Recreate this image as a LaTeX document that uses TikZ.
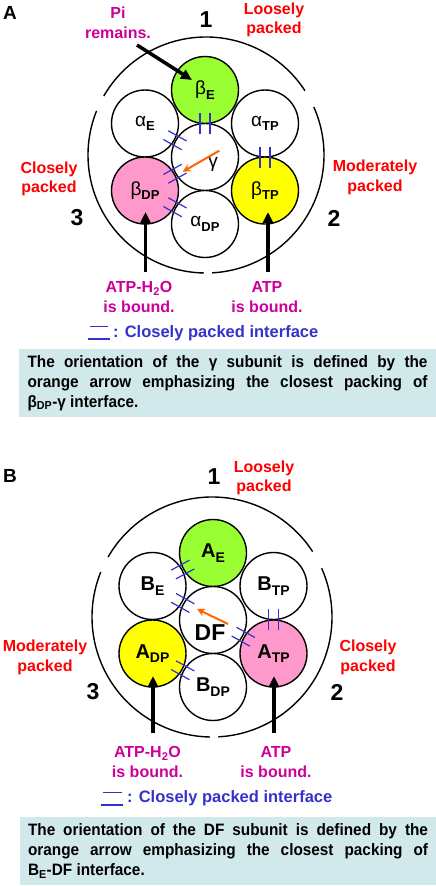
\documentclass[tikz,border=0pt]{standalone}
\usepackage{fontspec}
\setmainfont{Liberation Sans}
\newfontfamily\boxfont{Liberation Sans}[FakeStretch=0.93]
\usetikzlibrary{calc,arrows.meta}
\definecolor{lgreen}{RGB}{153,255,51}
\definecolor{lpink}{RGB}{255,153,204}
\definecolor{lyellow}{RGB}{255,255,0}
\definecolor{redlbl}{RGB}{255,0,0}
\definecolor{maglbl}{RGB}{204,0,153}
\definecolor{bluelbl}{RGB}{51,51,204}
\definecolor{orangearr}{RGB}{255,102,0}
\definecolor{boxbg}{RGB}{210,233,236}
\newcommand\greeklbl[2]{{\fontsize{19}{19}\selectfont #1}\raisebox{-4.5pt}{\fontsize{13}{13}\selectfont\bfseries #2}}
\newcommand\latinlbl[2]{{\fontsize{20}{20}\selectfont\bfseries #1}\raisebox{-4.5pt}{\fontsize{14}{14}\selectfont\bfseries #2}}
\newcommand\packmark[2]{%
  \coordinate (pm) at ($(#1)!.5!(#2)$);
  \coordinate (pe1) at ($(pm)!10.5pt!(#2)$);
  \coordinate (pe2) at ($(pm)!-10.5pt!(#2)$);
  \draw[tickline] ($(pe1)!5pt!90:(#2)$) -- ($(pe2)!5pt!90:(#2)$);
  \draw[tickline] ($(pe1)!-5pt!90:(#2)$) -- ($(pe2)!-5pt!90:(#2)$);
}
\newcommand\outerarcs[2]{%
  \draw[outerarc] ($(#1)+(150:#2)$) arc[start angle=150, end angle=33, radius=#2];
  \draw[outerarc] ($(#1)+(158:#2)$) arc[start angle=158, end angle=269, radius=#2];
  \draw[outerarc] ($(#1)+(-87:#2)$) arc[start angle=-87, end angle=24, radius=#2];
}
\begin{document}
\begin{tikzpicture}[x=1pt,y=-1pt,
  sub/.style={circle, draw=black, line width=1.4pt, minimum size=67pt, inner sep=0pt},
  outerarc/.style={line width=1.4pt},
  redtxt/.style={text=redlbl, font=\fontsize{16}{19.5}\selectfont\bfseries, align=center, inner sep=0pt},
  magtxt/.style={text=maglbl, font=\fontsize{16}{19.5}\selectfont\bfseries, align=center, inner sep=0pt},
  numtxt/.style={font=\fontsize{23}{23}\selectfont\bfseries, inner sep=0pt},
  paneltxt/.style={font=\fontsize{19}{19}\selectfont\bfseries, inner sep=0pt},
  bigarrow/.style={line width=3.5pt, -{Triangle[length=11pt,width=10pt]}},
  orangearrow/.style={draw=orangearr, line width=2pt, -{Stealth[length=8pt,width=8pt]}},
  tickline/.style={draw=bluelbl, line width=1.2pt},
  legendtxt/.style={text=bluelbl, font=\fontsize{16.5}{16.5}\selectfont\bfseries, anchor=west, inner sep=0pt},
  boxnode/.style={fill=boxbg, minimum width=417pt, minimum height=68pt, text width=400pt,
     align=justify, inner sep=0pt, font=\boxfont\fontsize{16.5}{20}\selectfont\bfseries}
]
\useasboundingbox (0,0) rectangle (436,886);
\fill[white] (0,0) rectangle (436,886);

% ================= Panel A =================
\node[paneltxt] (lblA) at (10,13) {A};
\node[numtxt] (n1A) at (206,20) {1};
\node[redtxt] (looseA) at (274,20) {Loosely\\packed};
\node[magtxt] (piA) at (118,23) {Pi\\remains.};
\coordinate (ocA) at (206,155);
\outerarcs{ocA}{118pt}

\node[sub, fill=lgreen] (bE) at (205,90) {\greeklbl{β}{E}};
\node[sub, fill=white] (aE) at (145,123.5) {\greeklbl{α}{E}};
\node[sub, fill=white] (aTP) at (265,123.5) {\greeklbl{α}{TP}};
\node[sub, fill=white] (gam) at (205,157) {};
\node[font=\fontsize{19}{19}\selectfont, inner sep=0pt] (gamlbl) at (213,164) {γ};
\node[sub, fill=lpink] (bDP) at (145,190.5) {\greeklbl{β}{DP}};
\node[sub, fill=lyellow] (bTP) at (265,190.5) {\greeklbl{β}{TP}};
\node[sub, fill=white] (aDP) at (205,224) {\greeklbl{α}{DP}};

\packmark{bE}{gam}
\packmark{aE}{gam}
\packmark{aTP}{bTP}
\packmark{bDP}{gam}
\packmark{bDP}{aDP}

\coordinate (oaS) at (219.3,150.7);
\coordinate (oaT) at (182.7,171.7);
\draw[orangearrow] (oaS) -- (oaT);

\node[redtxt] (closeA) at (49,179) {Closely\\packed};
\node[redtxt] (modA) at (375,177.5) {Moderately\\packed};
\node[numtxt] (n3A) at (77,218) {3};
\node[numtxt] (n2A) at (334,218) {2};

\coordinate (piS) at (137,45);
\coordinate (piT) at (192,80);
\draw[bigarrow] (piS) -- (piT);
\coordinate (h2oSA) at (145.5,272);
\coordinate (h2oTA) at (145.5,212);
\draw[bigarrow] (h2oSA) -- (h2oTA);
\coordinate (atpSA) at (268,272);
\coordinate (atpTA) at (268,212);
\draw[bigarrow] (atpSA) -- (atpTA);

\node[magtxt] (h2oA) at (139,297) {ATP-H\textsubscript{2}O\\is bound.};
\node[magtxt] (atpA) at (267,297) {ATP\\is bound.};

\draw[tickline] (90,326.5) -- (108,326.5);
\draw[tickline] (88,339) -- (110,339);
\node[legendtxt] (legA) at (113,333) {: Closely packed interface};

\node[boxnode] (boxA) at (227.5,383) {The orientation of the γ subunit is defined by the\linebreak orange arrow emphasizing the closest packing of\linebreak β\textsubscript{DP}-γ interface.};

% ================= Panel B =================
\node[paneltxt] (lblB) at (10,476) {B};
\node[numtxt] (n1B) at (214,477) {1};
\node[redtxt] (looseB) at (264,478) {Loosely\\packed};
\coordinate (ocB) at (212,617);
\outerarcs{ocB}{120pt}

\node[sub, fill=lgreen] (AE) at (213,553) {\latinlbl{A}{E}};
\node[sub, fill=white] (BE) at (152.5,586) {\latinlbl{B}{E}};
\node[sub, fill=white] (BTP) at (273.5,586) {\latinlbl{B}{TP}};
\node[sub, fill=white] (DF) at (213,620) {};
\node[font=\fontsize{23}{23}\selectfont\bfseries, inner sep=0pt] (DFlbl) at (210,633) {DF};
\node[sub, fill=lyellow] (ADP) at (152.5,653.5) {\latinlbl{A}{DP}};
\node[sub, fill=lpink] (ATP) at (273.5,653.5) {\latinlbl{A}{TP}};
\node[sub, fill=white] (BDP) at (213,687) {\latinlbl{B}{DP}};

\packmark{AE}{BE}
\packmark{BE}{DF}
\packmark{DF}{ATP}
\packmark{BTP}{ATP}
\packmark{ADP}{BDP}

\coordinate (obS) at (228,624);
\coordinate (obT) at (197,609);
\draw[orangearrow] (obS) -- (obT);

\node[redtxt] (modB) at (45,657.5) {Moderately\\packed};
\node[redtxt] (closeB) at (368,657.5) {Closely\\packed};
\node[numtxt] (n3B) at (93,692) {3};
\node[numtxt] (n2B) at (337,692) {2};

\coordinate (h2oSB) at (153,733);
\coordinate (h2oTB) at (153,676);
\draw[bigarrow] (h2oSB) -- (h2oTB);
\coordinate (atpSB) at (274,733);
\coordinate (atpTB) at (274,676);
\draw[bigarrow] (atpSB) -- (atpTB);

\node[magtxt] (h2oB) at (147.5,762) {ATP-H\textsubscript{2}O\\is bound.};
\node[magtxt] (atpB) at (276,762) {ATP\\is bound.};

\draw[tickline] (103,792.7) -- (122,792.7);
\draw[tickline] (101,805) -- (123,805);
\node[legendtxt] (legB) at (127,798.5) {: Closely packed interface};

\node[boxnode] (boxB) at (228,851) {The orientation of the DF subunit is defined by the\linebreak orange arrow emphasizing the closest packing of\linebreak B\textsubscript{E}-DF interface.};
\end{tikzpicture}
\end{document}
